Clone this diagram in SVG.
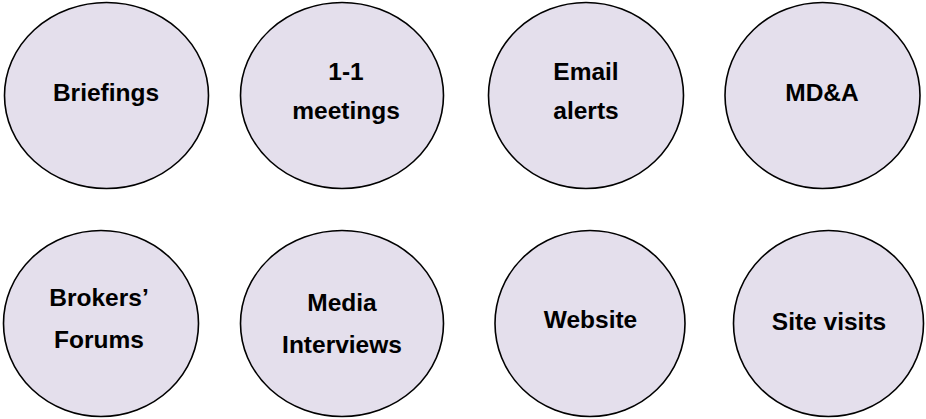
<svg xmlns="http://www.w3.org/2000/svg" width="926" height="419" viewBox="0 0 926 419">
  <style>
    .bg { fill: #ffffff; }
    .node ellipse { fill: #E4DFEC; stroke: #000000; stroke-width: 1.6; }
    .node text { font-family: "Liberation Sans", Arial, sans-serif; font-weight: bold; font-size: 24.5px; fill: #000000; text-anchor: middle; }
  </style>
  <rect class="bg" x="0" y="0" width="926" height="419"/>
  <g id="connectors"/>
  <g id="briefings" class="node">
    <ellipse cx="106.5" cy="95.5" rx="102" ry="93"/>
    <text x="106" y="100.5">Briefings</text>
  </g>
  <g id="one-on-one-meetings" class="node">
    <ellipse cx="342" cy="95.5" rx="101.5" ry="93"/>
    <text x="346" y="80">1-1</text>
    <text x="346" y="119">meetings</text>
  </g>
  <g id="email-alerts" class="node">
    <ellipse cx="586" cy="95.5" rx="97.5" ry="93"/>
    <text x="586" y="80">Email</text>
    <text x="586" y="119">alerts</text>
  </g>
  <g id="mda" class="node">
    <ellipse cx="822.5" cy="95.5" rx="97.5" ry="93"/>
    <text x="822" y="100.5">MD&amp;A</text>
  </g>
  <g id="brokers-forums" class="node">
    <ellipse cx="101" cy="323.5" rx="97.5" ry="93"/>
    <text x="99" y="306">Brokers’</text>
    <text x="99" y="348">Forums</text>
  </g>
  <g id="media-interviews" class="node">
    <ellipse cx="342" cy="323.5" rx="101.5" ry="93"/>
    <text x="342" y="310.5">Media</text>
    <text x="342" y="352.5">Interviews</text>
  </g>
  <g id="website" class="node">
    <ellipse cx="590" cy="323.5" rx="95" ry="93"/>
    <text x="590.5" y="327.5">Website</text>
  </g>
  <g id="site-visits" class="node">
    <ellipse cx="828.5" cy="323.5" rx="95" ry="93"/>
    <text x="829" y="329.5">Site visits</text>
  </g>
</svg>
